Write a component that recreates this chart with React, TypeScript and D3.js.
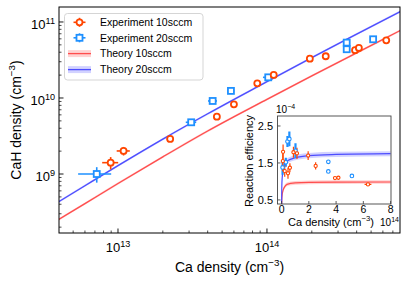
import { useEffect, useRef } from "react";
import * as d3 from "d3";

const W = 407;
const H = 282;
const FONT = "'Liberation Sans', Arial, sans-serif";

const RED = "#ff4500";
const BLUE = "#1e90ff";
const TH_RED = "#ff4d4d";
const TH_BLUE = "#4d4dff";

// main panel, experiment 10 sccm (cm^-3)
const ca10 = [8.93e12, 1.09e13, 2.24e13, 4.61e13, 6.0e13, 8.61e13, 1.11e14, 1.94e14, 2.48e14, 3.9e14, 4.14e14, 6.32e14];
const cah10 = [1.41e9, 2.01e9, 2.89e9, 5.68e9, 8.26e9, 1.56e10, 2.01e10, 3.29e10, 3.54e10, 4.25e10, 4.55e10, 5.74e10];
const ca10Err = [1.1e12, 1.1e12, 1.2e12, 1.5e12, 2e12, 3e12, 6e12, 8e12, 8e12, 1e13, 1e13, 1.5e13];
const cah10Err = [0.26e9, 0.26e9, 0.15e9, 0.3e9, 0.4e9, 0.7e9, 1.2e9, 1e9, 1e9, 1e9, 1e9, 1.2e9];

// main panel, experiment 20 sccm
const ca20 = [7.2e12, 3.1e13, 4.32e13, 5.73e13, 1.02e14, 3.43e14, 3.43e14, 5.16e14];
const cah20 = [1.0e9, 4.79e9, 9.14e9, 1.24e10, 1.87e10, 5.35e10, 4.38e10, 5.92e10];
const ca20Err = [1.8e12, 2.5e12, 3e12, 3e12, 8e12, 5e12, 5e12, 8e12];
const cah20Err = [0.23e9, 0.2e9, 0.3e9, 0.3e9, 0.6e9, 2e9, 1.5e9, 1.5e9];

// main panel, theory curves
const thCa = [4e12, 6e12, 1e13, 2e13, 4e13, 1e14, 2e14, 4e14, 8e14];
const thCaH10 = [2.52e8, 4.08e8, 7.5e8, 1.68e9, 3.68e9, 9.6e9, 1.95e10, 3.92e10, 7.88e10];
const thCaH20 = [4.32e8, 7.02e8, 1.29e9, 2.88e9, 6.2e9, 1.64e10, 3.4e10, 6.92e10, 1.4e11];

// inset: reaction efficiency (x in 1e14 cm^-3, y in 1e-4)
const effCa10 = [0.09, 0.11, 0.23, 0.47, 0.61, 0.87, 1.13, 1.95, 2.5, 3.92, 4.17, 6.34];
const eff10 = [1.55, 1.8, 1.28, 1.22, 1.37, 1.79, 1.76, 1.7, 1.42, 1.09, 1.1, 0.92];
const effCa10Err = [0.01, 0.01, 0.02, 0.03, 0.03, 0.04, 0.06, 0.08, 0.1, 0.1, 0.1, 0.25];
const eff10Err = [0.27, 0.2, 0.15, 0.15, 0.12, 0.15, 0.15, 0.12, 0.1, 0.04, 0.04, 0.03];

const effCa20 = [0.072, 0.31, 0.43, 0.57, 1.02, 3.43, 3.43, 5.16];
const eff20 = [1.38, 1.52, 2.08, 2.15, 1.83, 1.53, 1.27, 1.15];
const effCa20Err = [0.02, 0.03, 0.03, 0.03, 0.1, 0.05, 0.1, 0.1];
const eff20Err = [0.2, 0.12, 0.15, 0.2, 0.2, 0.05, 0.04, 0.03];

const thEffCa = [0, 0.005, 0.01, 0.02, 0.04, 0.06, 0.1, 0.2, 0.4, 1, 2, 4, 8];
const thEff10 = [0, 0.25, 0.4, 0.53, 0.63, 0.68, 0.75, 0.84, 0.92, 0.96, 0.975, 0.98, 0.985];
const thEff20 = [0, 0.45, 0.7, 0.9, 1.08, 1.17, 1.29, 1.44, 1.55, 1.64, 1.7, 1.73, 1.75];

type Sel = d3.Selection<SVGGElement, unknown, null, undefined>;

function supText(g: Sel, x: number, y: number, base: string, sup: string, size: number, anchor: string, tail = "") {
  const t = g
    .append("text")
    .attr("x", x)
    .attr("y", y)
    .attr("font-size", size)
    .attr("text-anchor", anchor)
    .attr("fill", "#000");
  t.append("tspan").text(base);
  t.append("tspan").attr("dy", -size * 0.42).attr("font-size", size * 0.7).text(sup);
  if (tail) t.append("tspan").attr("dy", size * 0.42).text(tail);
  return t;
}

export default function App() {
  const ref = useRef<SVGSVGElement>(null);

  useEffect(() => {
    if (!ref.current) return;
    const root = d3.select(ref.current);
    root.selectAll("*").remove();
    const svg = root.append("g").attr("font-family", FONT) as Sel;

    // ---------- main panel ----------
    const L = 59, R = 400, T = 7, B = 233;
    const x = d3.scaleLog().domain([10 ** 12.604, 10 ** 14.893]).range([L, R]);
    const y = d3.scaleLog().domain([10 ** 8.224, 10 ** 11.197]).range([B, T]);

    svg.append("clipPath").attr("id", "clipMain")
      .append("rect").attr("x", L).attr("y", T).attr("width", R - L).attr("height", B - T);

    const band = (vals: number[], f: number) =>
      d3.area<number>()
        .x((_d, i) => x(thCa[i]))
        .y0((d) => y(d / f))
        .y1((d) => y(d * f))
        .curve(d3.curveMonotoneX)(vals);
    const line = d3.line<number>()
      .x((_d, i) => x(thCa[i]))
      .y((d) => y(d))
      .curve(d3.curveMonotoneX);

    const th = svg.append("g").attr("clip-path", "url(#clipMain)");
    th.append("path").attr("d", band(thCaH10, 1.035)).attr("fill", TH_RED).attr("opacity", 0.25);
    th.append("path").attr("d", band(thCaH20, 1.035)).attr("fill", TH_BLUE).attr("opacity", 0.25);
    th.append("path").attr("d", line(thCaH10)).attr("fill", "none").attr("stroke", TH_RED).attr("stroke-width", 1.3);
    th.append("path").attr("d", line(thCaH20)).attr("fill", "none").attr("stroke", TH_BLUE).attr("stroke-width", 1.3);

    const drawErr = (
      g: Sel, xs: number[], ys: number[], xe: number[], ye: number[], color: string,
      sx: (v: number) => number, sy: (v: number) => number, lw: number
    ) => {
      xs.forEach((cx, i) => {
        g.append("line").attr("x1", sx(cx - xe[i])).attr("x2", sx(cx + xe[i]))
          .attr("y1", sy(ys[i])).attr("y2", sy(ys[i])).attr("stroke", color).attr("stroke-width", lw);
        g.append("line").attr("x1", sx(cx)).attr("x2", sx(cx))
          .attr("y1", sy(ys[i] - ye[i])).attr("y2", sy(ys[i] + ye[i])).attr("stroke", color).attr("stroke-width", lw);
      });
    };

    const pts = svg.append("g").attr("clip-path", "url(#clipMain)") as unknown as Sel;
    drawErr(pts, ca10, cah10, ca10Err, cah10Err, RED, x, y, 1.6);
    drawErr(pts, ca20, cah20, ca20Err, cah20Err, BLUE, x, y, 1.6);
    ca20.forEach((cx, i) => {
      pts.append("rect").attr("x", x(cx) - 3).attr("y", y(cah20[i]) - 3).attr("width", 6).attr("height", 6)
        .attr("fill", "#fff").attr("stroke", BLUE).attr("stroke-width", 1.8);
    });
    ca10.forEach((cx, i) => {
      pts.append("circle").attr("cx", x(cx)).attr("cy", y(cah10[i])).attr("r", 3)
        .attr("fill", "#fff").attr("stroke", RED).attr("stroke-width", 1.8);
    });

    // axes ticks (inward)
    const ax = svg.append("g");
    const xMinor: number[] = [];
    const yMinor: number[] = [];
    for (let e = 12; e <= 14; e++) for (let k = 2; k <= 9; k++) {
      const v = k * 10 ** e;
      if (v > x.domain()[0] && v < x.domain()[1]) xMinor.push(v);
    }
    for (let e = 8; e <= 11; e++) for (let k = 2; k <= 9; k++) {
      const v = k * 10 ** e;
      if (v > y.domain()[0] && v < y.domain()[1]) yMinor.push(v);
    }
    xMinor.forEach((v) => ax.append("line").attr("x1", x(v)).attr("x2", x(v)).attr("y1", B).attr("y2", B - 2.5).attr("stroke", "#000").attr("stroke-width", 0.7));
    yMinor.forEach((v) => ax.append("line").attr("y1", y(v)).attr("y2", y(v)).attr("x1", L).attr("x2", L + 2.5).attr("stroke", "#000").attr("stroke-width", 0.7));
    [1e13, 1e14].forEach((v) => {
      ax.append("line").attr("x1", x(v)).attr("x2", x(v)).attr("y1", B).attr("y2", B - 4.5).attr("stroke", "#000").attr("stroke-width", 0.9);
      supText(ax as Sel, x(v), 252, "10", String(Math.round(Math.log10(v))), 13, "middle");
    });
    [1e9, 1e10, 1e11].forEach((v) => {
      ax.append("line").attr("y1", y(v)).attr("y2", y(v)).attr("x1", L).attr("x2", L + 4.5).attr("stroke", "#000").attr("stroke-width", 0.9);
      supText(ax as Sel, 55, y(v) + 7, "10", String(Math.round(Math.log10(v))), 13, "end");
    });
    ax.append("rect").attr("x", L).attr("y", T).attr("width", R - L).attr("height", B - T)
      .attr("fill", "none").attr("stroke", "#000").attr("stroke-width", 1);

    supText(ax as Sel, (L + R) / 2, 272, "Ca density (cm", "\u22123", 14, "middle", ")");
    const yl = ax.append("g").attr("transform", `translate(21,${(T + B) / 2}) rotate(-90)`) as unknown as Sel;
    supText(yl, 0, 0, "CaH density (cm", "\u22123", 14, "middle", ")");

    // legend
    const lg = svg.append("g");
    lg.append("rect").attr("x", 64.5).attr("y", 13.5).attr("width", 138.5).attr("height", 66.5).attr("rx", 3)
      .attr("fill", "#fff").attr("fill-opacity", 0.85).attr("stroke", "#d0d0d0").attr("stroke-width", 0.9);
    const rows = [22.3, 37.8, 53.6, 69.6];
    const lx = 79.5;
    [[RED, "c"], [BLUE, "s"]].forEach(([c, m], i) => {
      const cy = rows[i];
      lg.append("line").attr("x1", lx - 6).attr("x2", lx + 6).attr("y1", cy).attr("y2", cy).attr("stroke", c).attr("stroke-width", 1.6);
      lg.append("line").attr("x1", lx).attr("x2", lx).attr("y1", cy - 4.5).attr("y2", cy + 4.5).attr("stroke", c).attr("stroke-width", 1.6);
      if (m === "c") lg.append("circle").attr("cx", lx).attr("cy", cy).attr("r", 3).attr("fill", "#fff").attr("stroke", c).attr("stroke-width", 1.8);
      else lg.append("rect").attr("x", lx - 3).attr("y", cy - 3).attr("width", 6).attr("height", 6).attr("fill", "#fff").attr("stroke", c).attr("stroke-width", 1.8);
    });
    [TH_RED, TH_BLUE].forEach((c, i) => {
      const cy = rows[i + 2];
      lg.append("rect").attr("x", 68).attr("y", cy - 3.5).attr("width", 23).attr("height", 7).attr("fill", c).attr("opacity", 0.25);
      lg.append("line").attr("x1", 68).attr("x2", 91).attr("y1", cy).attr("y2", cy).attr("stroke", c).attr("stroke-width", 1.3);
    });
    ["Experiment 10sccm", "Experiment 20sccm", "Theory 10sccm", "Theory 20sccm"].forEach((s, i) => {
      lg.append("text").attr("x", 100).attr("y", rows[i] + 3.8).attr("font-size", 10.5).text(s);
    });

    // ---------- inset ----------
    const iL = 277.5, iR = 391, iT = 116, iB = 204;
    const ix = d3.scaleLinear().domain([-0.3, 8.03]).range([iL, iR]);
    const iy = d3.scaleLinear().domain([0.39, 2.77]).range([iB, iT]);
    const ins = svg.append("g");
    ins.append("rect").attr("x", iL).attr("y", iT).attr("width", iR - iL).attr("height", iB - iT).attr("fill", "#fff");
    ins.append("clipPath").attr("id", "clipIns")
      .append("rect").attr("x", iL).attr("y", iT).attr("width", iR - iL).attr("height", iB - iT);
    const ic = ins.append("g").attr("clip-path", "url(#clipIns)") as unknown as Sel;

    const iBand = (vals: number[], d: number) =>
      d3.area<number>().x((_v, i) => ix(thEffCa[i])).y0((v) => iy(v - d)).y1((v) => iy(v + d)).curve(d3.curveMonotoneX)(vals);
    const iLine = d3.line<number>().x((_v, i) => ix(thEffCa[i])).y((v) => iy(v)).curve(d3.curveMonotoneX);
    ic.append("path").attr("d", iBand(thEff10, 0.05)).attr("fill", TH_RED).attr("opacity", 0.25);
    ic.append("path").attr("d", iBand(thEff20, 0.07)).attr("fill", TH_BLUE).attr("opacity", 0.25);
    ic.append("path").attr("d", iLine(thEff10)).attr("fill", "none").attr("stroke", TH_RED).attr("stroke-width", 1.2);
    ic.append("path").attr("d", iLine(thEff20)).attr("fill", "none").attr("stroke", TH_BLUE).attr("stroke-width", 1.2);

    drawErr(ic, effCa20, eff20, effCa20Err, eff20Err, BLUE, ix, iy, 2.2);
    drawErr(ic, effCa10, eff10, effCa10Err, eff10Err, RED, ix, iy, 1.2);
    effCa20.forEach((cx, i) => {
      ic.append("circle").attr("cx", ix(cx)).attr("cy", iy(eff20[i])).attr("r", 1.8)
        .attr("fill", "#fff").attr("stroke", BLUE).attr("stroke-width", 1.1);
    });
    effCa10.forEach((cx, i) => {
      ic.append("circle").attr("cx", ix(cx)).attr("cy", iy(eff10[i])).attr("r", 1.6)
        .attr("fill", "#fff").attr("stroke", RED).attr("stroke-width", 1.1);
    });

    [0, 2, 4, 6, 8].forEach((v) => {
      ins.append("line").attr("x1", ix(v)).attr("x2", ix(v)).attr("y1", iB).attr("y2", iB - 3).attr("stroke", "#333").attr("stroke-width", 0.8);
      ins.append("text").attr("x", ix(v)).attr("y", 212.5).attr("text-anchor", "middle").attr("font-size", 10.5).text(String(v));
    });
    [0.5, 1.5, 2.5].forEach((v) => {
      ins.append("line").attr("x1", iL).attr("x2", iL + 3).attr("y1", iy(v)).attr("y2", iy(v)).attr("stroke", "#333").attr("stroke-width", 0.8);
      ins.append("text").attr("x", 273).attr("y", iy(v) + 4).attr("text-anchor", "end").attr("font-size", 11).text(String(v));
    });
    ins.append("rect").attr("x", iL).attr("y", iT).attr("width", iR - iL).attr("height", iB - iT)
      .attr("fill", "none").attr("stroke", "#444").attr("stroke-width", 0.9);

    supText(ins as Sel, 276, 113, "10", "\u22124", 10, "start");
    supText(ins as Sel, 380, 226, "10", "14", 10, "start");
    supText(ins as Sel, 331, 225.5, "Ca density (cm", "\u22123", 11, "middle", ")");
    ins.append("text").attr("transform", `translate(253,${(iT + iB) / 2 + 1}) rotate(-90)`)
      .attr("text-anchor", "middle").attr("font-size", 11).text("Reaction efficiency");
  }, []);

  return (
    <svg
      ref={ref}
      width={W}
      height={H}
      style={{ position: "absolute", left: 0, top: 0, background: "#fff" }}
    />
  );
}
